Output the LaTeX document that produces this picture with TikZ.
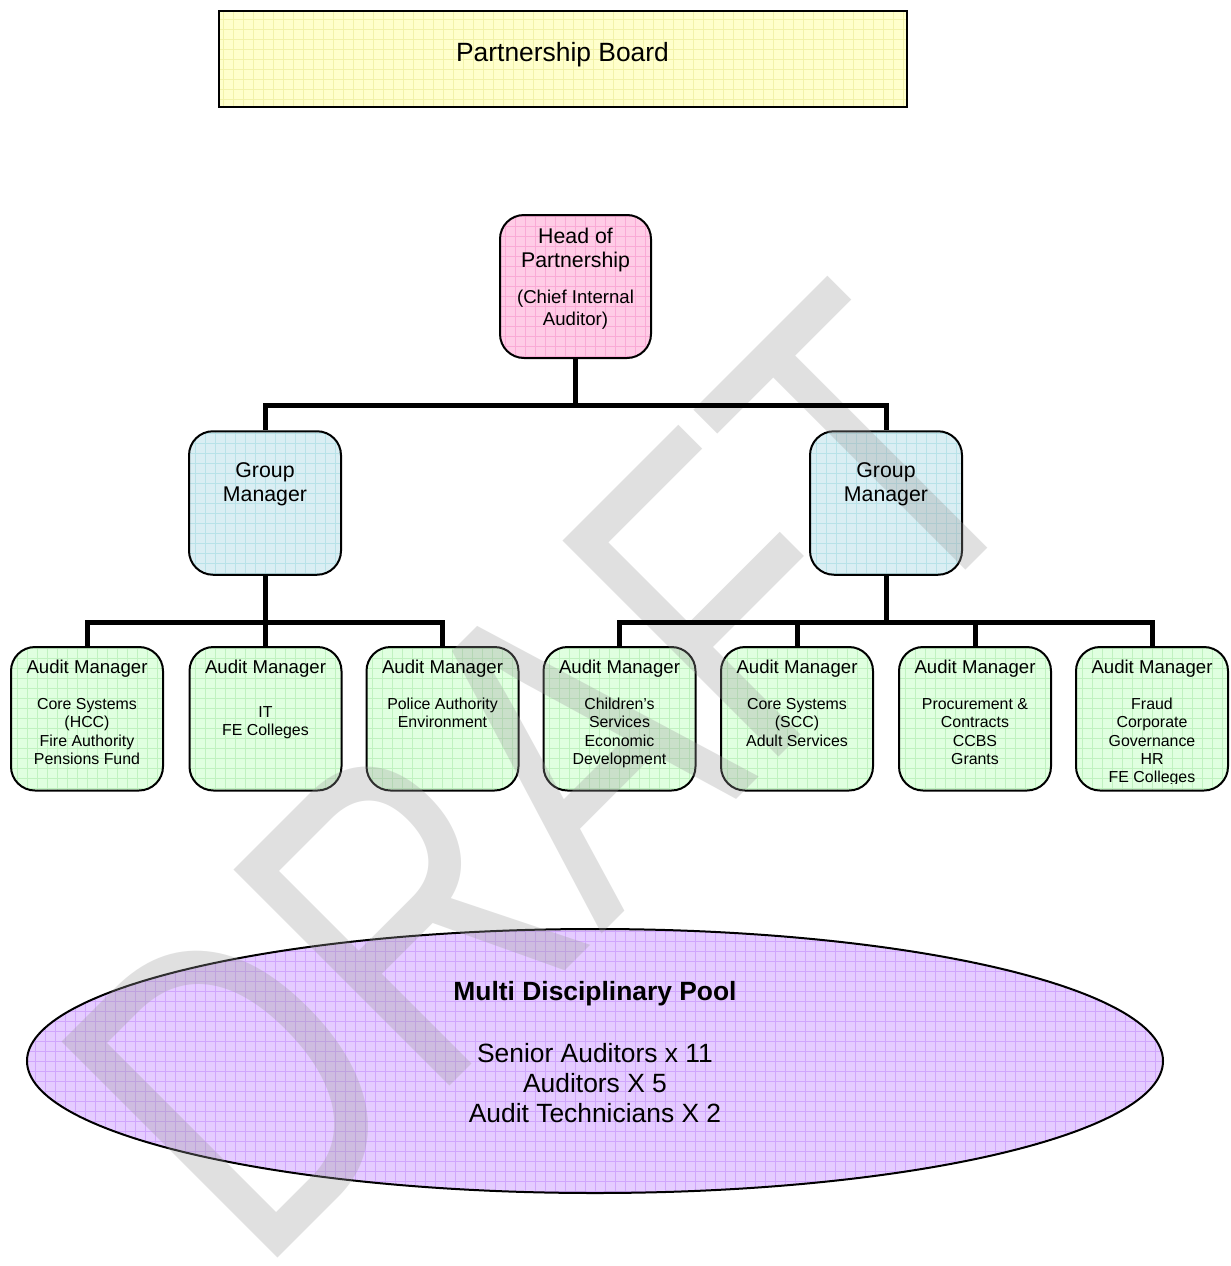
\documentclass[tikz,border=0pt]{standalone}
\usepackage{fontspec}
\setmainfont{Liberation Sans}
\usetikzlibrary{shapes.geometric}
\definecolor{yfill}{RGB}{255,255,204}
\definecolor{ygridc}{RGB}{242,242,170}
\definecolor{pfill}{RGB}{255,204,230}
\definecolor{pgridc}{RGB}{250,170,214}
\definecolor{bfill}{RGB}{218,238,243}
\definecolor{bgridc}{RGB}{184,226,232}
\definecolor{gfill}{RGB}{224,255,224}
\definecolor{ggridc}{RGB}{192,242,192}
\definecolor{vfill}{RGB}{229,204,255}
\definecolor{vgridc}{RGB}{208,166,252}
\newcommand\txtblock[3]{\fontsize{#1}{#2}\selectfont\begin{tabular}[t]{@{}c@{}}#3\end{tabular}}
\tikzset{
  gridded/.style={path picture={\draw[#1, line width=0.6pt, step=10pt]
      (path picture bounding box.south west) grid (path picture bounding box.north east);}},
  rbox/.style={draw=black, line width=2pt, inner sep=0pt, rounded corners=24pt,
      minimum width=152pt, minimum height=143.5pt},
  hopbox/.style={rbox, fill=pfill, gridded=pgridc},
  gmbox/.style={rbox, fill=bfill, gridded=bgridc},
  ambox/.style={rbox, fill=gfill, gridded=ggridc},
  conn/.style={line width=5pt},
  lbl/.style={anchor=base, inner sep=0pt},
  wmark/.style={inner sep=0pt, text=black!40, text opacity=0.3}
}
\begin{document}
\begin{tikzpicture}[x=1pt,y=-1pt]
\useasboundingbox (0,0) rectangle (1231,1266);
\clip (0,0) rectangle (1231,1266);
\fill[white] (0,0) rectangle (1231,1266);

% boxes
\node[draw=black, line width=2pt, inner sep=0pt, fill=yfill, gridded=ygridc,
      minimum width=688pt, minimum height=96pt] (board) at (563,59) {};
\node[hopbox, minimum width=151pt, minimum height=143pt] (hop) at (575.5,286.5) {};
\node[gmbox] (gm1) at (265,503) {};
\node[gmbox] (gm2) at (886,503) {};
\node[ambox] (am1) at (87,718.75) {};
\node[ambox] (am2) at (265.5,718.75) {};
\node[ambox] (am3) at (442.5,718.75) {};
\node[ambox] (am4) at (619.5,718.75) {};
\node[ambox] (am5) at (797,718.75) {};
\node[ambox] (am6) at (975,718.75) {};
\node[ambox] (am7) at (1152,718.75) {};
\node[ellipse, draw=black, line width=2pt, inner sep=0pt, fill=vfill, gridded=vgridc,
      minimum width=1136pt, minimum height=264pt] (pool) at (595,1061) {};

% watermark
\node[wmark, rotate=45] (draft) at (546,774) {\fontsize{444}{444}\selectfont\scalebox{0.755}[1]{DRAFT}};

% connectors
\coordinate (j1) at (575.5,405.5);
\coordinate (j2) at (265,622);
\coordinate (j3) at (886,622);
\draw[conn] (hop.south) -- (j1);
\draw[conn] (j1) -| (gm1.north);
\draw[conn] (j1) -| (gm2.north);
\draw[conn] (gm1.south) -- (j2);
\draw[conn] (j2) -| (am1.north);
\draw[conn] (j2) -| (am2.north);
\draw[conn] (j2) -| (am3.north);
\draw[conn] (gm2.south) -- (j3);
\draw[conn] (j3) -| (am4.north);
\draw[conn] (j3) -| (am5.north);
\draw[conn] (j3) -| (am6.north);
\draw[conn] (j3) -| (am7.north);

% texts
\node[lbl] (tboard) at (562.5,61.5) {\txtblock{26.4}{30}{Partnership Board}};
\node[lbl] (thop) at (575.5,243) {\txtblock{21.3}{24}{Head of\\Partnership}};
\node[lbl] (thop2) at (575.5,303) {\txtblock{18.6}{22}{(Chief Internal\\Auditor)}};
\node[lbl] (tgm1) at (265,477) {\txtblock{21.3}{24.5}{Group\\Manager}};
\node[lbl] (tgm2) at (886,477) {\txtblock{21.3}{24.5}{Group\\Manager}};

\node[lbl] (tam1) at (87,673.5) {\txtblock{18.6}{21}{Audit Manager}};
\node[lbl] (tam2) at (265.5,673.5) {\txtblock{18.6}{21}{Audit Manager}};
\node[lbl] (tam3) at (442.5,673.5) {\txtblock{18.6}{21}{Audit Manager}};
\node[lbl] (tam4) at (619.5,673.5) {\txtblock{18.6}{21}{Audit Manager}};
\node[lbl] (tam5) at (797,673.5) {\txtblock{18.6}{21}{Audit Manager}};
\node[lbl] (tam6) at (975,673.5) {\txtblock{18.6}{21}{Audit Manager}};
\node[lbl] (tam7) at (1152,673.5) {\txtblock{18.6}{21}{Audit Manager}};

\node[lbl] (bam1) at (87,709.5) {\txtblock{15.9}{18.3}{Core Systems\\(HCC)\\Fire Authority\\Pensions Fund}};
\node[lbl] (bam2) at (265.5,717.5) {\txtblock{15.9}{18.3}{IT\\FE Colleges}};
\node[lbl] (bam3) at (442.5,709.5) {\txtblock{15.9}{18.3}{Police Authority\\Environment}};
\node[lbl] (bam4) at (619.5,709.5) {\txtblock{15.9}{18.3}{Children’s\\Services\\Economic\\Development}};
\node[lbl] (bam5) at (797,709.5) {\txtblock{15.9}{18.3}{Core Systems\\(SCC)\\Adult Services}};
\node[lbl] (bam6) at (975,709.5) {\txtblock{15.9}{18.3}{Procurement \&\\Contracts\\CCBS\\Grants}};
\begin{scope}
\clip (1076,648) rectangle (1228,783.5);
\node[lbl] (bam7) at (1152,709.5) {\txtblock{15.9}{18.3}{Fraud\\Corporate\\Governance\\HR\\FE Colleges}};
\end{scope}

\node[lbl] (tpool) at (595,1000.5) {\txtblock{26.4}{30}{\textbf{Multi Disciplinary Pool}}};
\node[lbl] (tpool2) at (595,1062.5) {\txtblock{26.4}{30}{Senior Auditors x 11\\Auditors X 5\\Audit Technicians X 2}};
\end{tikzpicture}
\end{document}
